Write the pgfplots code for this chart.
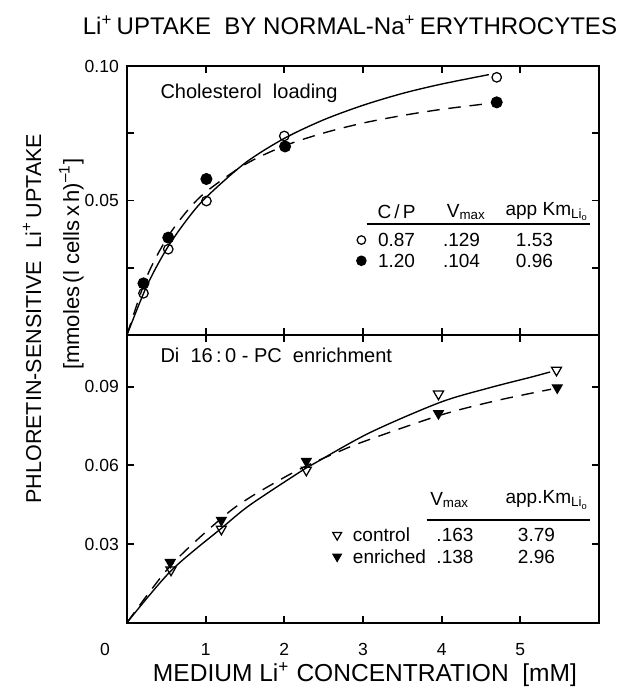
\documentclass[border=0pt]{standalone}
\usepackage{pgfplots}
\pgfplotsset{compat=1.18}
\usepackage{fontspec}
\setmainfont{Liberation Sans}
\setsansfont{Liberation Sans}

\newcommand{\Vmax}{V\textsubscript{max}}
\newcommand{\KmLi}{Km\textsubscript{Li\textsubscript{o}}}

\tikzset{lab/.style={font=\fontsize{7.6}{9}\selectfont}}
\pgfplotsset{
  panel/.style={
    scale only axis, width=6.625cm,
    xmin=0, xmax=6, ymin=0,
    axis line style={line width=0.8pt},
    tick align=inside, tick style={line width=0.7pt, black},
    major tick length=0.1cm,
    xtick={1,2,3,4,5},
    ticklabel style={font=\fontsize{7}{8}\selectfont},
    yticklabel style={xshift=0.01cm},
    xticklabel style={anchor=center, yshift=-0.38cm},
    clip=false,
  },
  solidc/.style={black, line width=0.55pt, smooth, no markers},
  dashc/.style={black, line width=0.55pt, smooth, no markers, dash pattern=on 5pt off 3.5pt},
}

\begin{document}
\begin{tikzpicture}
\path[use as bounding box] (-1.782cm,-1.043cm) rectangle (7.018cm,8.740cm);

% lower panel: Di 16:0-PC enrichment
\begin{axis}[panel, at={(0,0)}, anchor=south west, height=4.038cm,
  ymax=0.1097, ytick={0.03,0.06,0.09}, yticklabels={0.03,0.06,0.09},
  xticklabels={1,2,3,4,5}]
\addplot[solidc] coordinates {(0,0) (0.56,0.0198) (1.2,0.0360) (1.56,0.0448) (2.2,0.0575) (2.41,0.0612) (3.09,0.0725) (3.98,0.0840) (4.6,0.0895) (5.12,0.0935) (5.38,0.0956)};
\addplot[dashc] coordinates {(0,0) (0.55,0.0216) (1.2,0.0398) (1.56,0.0477) (2.16,0.0580) (2.69,0.0652) (3.05,0.0695) (3.98,0.0791) (4.7,0.0847) (5.39,0.0890)};
% control
\addplot[only marks, mark=triangle, mark options={rotate=180, fill=white, line width=0.5pt}, mark size=2.3pt]
  coordinates {(0.56,0.0201) (1.20,0.0357) (2.28,0.0582) (3.96,0.0872) (5.46,0.0963)};
% enriched
\addplot[only marks, mark=triangle*, mark options={rotate=180, fill=black}, mark size=2.3pt]
  coordinates {(0.55,0.0230) (1.20,0.0391) (2.28,0.0616) (3.96,0.0798) (5.47,0.0896)};

\node[anchor=west, font=\fontsize{8}{9}\selectfont] at (axis cs:0.314,0.1021) {Di\ \ 16\,:\,0 - PC\ \ enrichment};
\node[lab] at (axis cs:4.104,0.0468) {\Vmax};
\node[lab, anchor=west] at (axis cs:4.70,0.0468) {app.\KmLi};
\draw[line width=0.5pt] (axis cs:3.808,0.0392) -- (axis cs:5.88,0.0392);
\addplot[only marks, mark=triangle, mark options={rotate=180, fill=white, line width=0.5pt}, mark size=2.0pt] coordinates {(2.672,0.0334)};
\addplot[only marks, mark=triangle*, mark options={rotate=180, fill=black}, mark size=2.0pt] coordinates {(2.672,0.0252)};
\node[lab, anchor=west] at (axis cs:2.76,0.0334) {control};
\node[lab, anchor=west] at (axis cs:2.76,0.0252) {enriched};
\node[lab] at (axis cs:4.17,0.0334) {.163};
\node[lab] at (axis cs:4.17,0.0252) {.138};
\node[lab] at (axis cs:5.206,0.0334) {3.79};
\node[lab] at (axis cs:5.206,0.0252) {2.96};

\node[font=\fontsize{7}{8}\selectfont] at ([shift={(-0.309cm,-0.38cm)}]axis cs:0,0) {0};
\end{axis}

% upper panel: cholesterol loading
\begin{axis}[panel, at={(0,4.038cm)}, anchor=south west, height=3.775cm,
  ymax=0.1, ytick={0.025,0.05,0.075,0.1}, yticklabels={,0.05,,0.10},
  xticklabels={}]
\addplot[solidc] coordinates {(0,0) (0.25,0.0181) (0.5,0.0318) (0.75,0.0424) (1,0.0510) (1.5,0.0639) (2,0.0731) (2.5,0.0800) (3,0.0854) (3.5,0.0898) (4,0.0933) (4.6,0.0968)};
\addplot[dashc] coordinates {(0,0) (0.25,0.0215) (0.5,0.0356) (0.75,0.0456) (1,0.0531) (1.5,0.0634) (2,0.0703) (2.5,0.0751) (3,0.0788) (3.5,0.0816) (4,0.0839) (4.55,0.0859)};
% C/P 0.87
\addplot[only marks, mark=o, mark options={line width=0.5pt}, mark size=1.9pt]
  coordinates {(0.21,0.0155) (0.525,0.0319) (1.01,0.0498) (2.0,0.0740) (4.70,0.0958)};
% C/P 1.20
\addplot[only marks, mark=*, mark options={fill=black}, mark size=2.2pt]
  coordinates {(0.21,0.0192) (0.525,0.0362) (1.01,0.0580) (2.01,0.0701) (4.70,0.0865)};

\node[anchor=west, font=\fontsize{8}{9}\selectfont] at (axis cs:0.314,0.0899) {Cholesterol\ \ loading};
\node[lab] at (axis cs:3.427,0.0458) {C\,/\,P};
\node[lab] at (axis cs:4.316,0.0458) {\Vmax};
\node[lab, anchor=west] at (axis cs:4.70,0.0458) {app \KmLi};
\draw[line width=0.5pt] (axis cs:3.046,0.0413) -- (axis cs:5.88,0.0413);
\addplot[only marks, mark=o, mark options={line width=0.5pt}, mark size=1.7pt] coordinates {(2.98,0.0353)};
\addplot[only marks, mark=*, mark options={fill=black}, mark size=1.9pt] coordinates {(2.98,0.0276)};
\node[lab] at (axis cs:3.427,0.0353) {0.87};
\node[lab] at (axis cs:3.427,0.0276) {1.20};
\node[lab] at (axis cs:4.253,0.0353) {.129};
\node[lab] at (axis cs:4.253,0.0276) {.104};
\node[lab] at (axis cs:5.18,0.0353) {1.53};
\node[lab] at (axis cs:5.18,0.0276) {0.96};
\end{axis}

% titles and axis labels
\node[font=\fontsize{9.6}{12}\selectfont] at (3.13cm,8.389cm) {Li\textsuperscript{+}\,UPTAKE\ \ BY\ NORMAL-Na\textsuperscript{+}\,ERYTHROCYTES};
\node[font=\fontsize{9.8}{12}\selectfont] at (3.34cm,-0.734cm) {MEDIUM\ Li\textsuperscript{+}\ CONCENTRATION\ \ [mM]};
\node[rotate=90, font=\fontsize{8.6}{11}\selectfont] at (-1.33cm,4.267cm) {PHLORETIN-SENSITIVE\ \ Li\textsuperscript{+}\,UPTAKE};
\node[rotate=90, font=\fontsize{8.8}{11}\selectfont] at (-0.78cm,5.034cm) {[mmoles\,(l\ cells\,x\,h)\textsuperscript{--1}]};
\end{tikzpicture}
\end{document}
